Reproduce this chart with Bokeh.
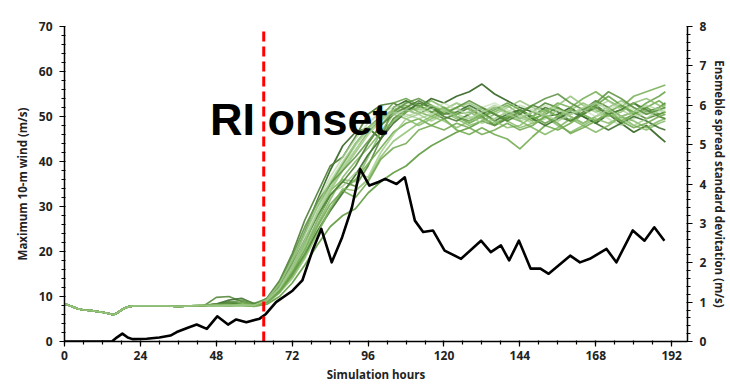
from bokeh.plotting import figure
from bokeh.models import Range1d, LinearAxis, Label, FixedTicker
from bokeh.embed import file_html
from bokeh.resources import INLINE

# ---------------------------------------------------------------
# Data
# ---------------------------------------------------------------
# Spin-up period shared by all ensemble members (hours, m/s)
spinup_hours = [0, 2, 4, 6, 8, 10, 12, 14, 15, 16, 17, 18, 19, 20, 22, 24, 28, 32, 36, 40]
spinup_wind = [8.4, 7.9, 7.3, 7.0, 6.9, 6.7, 6.5, 6.2, 6.0, 6.1, 6.5, 7.0, 7.4, 7.7, 7.9,
               7.9, 7.9, 7.9, 7.8, 7.9]

# Hours at which each member's maximum 10-m wind is listed after spin-up
member_hours = [44, 48, 52, 56, 60, 64, 68, 72, 76, 80, 84, 88, 92, 96, 100, 104, 108, 112,
                116, 120, 124, 128, 132, 136, 140, 144, 148, 152, 156, 160, 164, 168, 172,
                176, 180, 184, 188, 190]

m01 = [8.0, 8.2, 8.1, 8.3, 8.0, 9.3, 12.8, 18.0, 24.5, 31.5, 38.0, 43.5, 46.5, 47.5, 45.0,
       52.0, 53.5, 52.0, 54.0, 53.0, 54.5, 55.5, 57.2, 55.0, 53.5, 52.0, 51.0, 50.0, 50.5,
       52.0, 50.0, 48.5, 50.5, 48.5, 46.5, 48.0, 45.5, 44.3]
m02 = [8.0, 8.3, 8.8, 8.4, 8.1, 9.6, 13.5, 19.5, 27.0, 33.0, 39.0, 41.0, 45.5, 50.5, 52.5,
       53.0, 51.5, 52.5, 51.0, 49.5, 50.5, 52.0, 50.0, 48.0, 49.5, 51.5, 50.0, 52.0, 51.0,
       49.0, 51.0, 52.5, 50.5, 51.5, 53.0, 51.0, 52.0, 53.0]
m03 = [7.9, 9.8, 10.0, 8.9, 8.2, 9.0, 11.8, 15.5, 20.5, 27.0, 32.5, 35.5, 34.5, 39.0, 45.0,
       49.5, 51.5, 50.5, 52.0, 51.5, 50.0, 49.0, 50.5, 52.0, 51.0, 49.5, 51.0, 53.0, 52.0,
       50.5, 51.5, 53.5, 52.0, 50.0, 51.0, 49.5, 50.5, 51.0]
m04 = [8.0, 8.0, 7.9, 8.0, 7.8, 8.3, 10.0, 13.0, 17.0, 21.5, 25.5, 28.0, 29.5, 33.0, 35.5,
       37.5, 39.0, 41.5, 43.5, 45.0, 46.5, 47.5, 49.0, 48.0, 50.0, 51.5, 49.5, 50.5, 52.0,
       50.0, 48.5, 50.0, 51.5, 49.0, 50.5, 52.0, 50.5, 51.0]
m05 = [8.0, 8.1, 8.4, 8.6, 8.0, 8.6, 11.0, 14.5, 19.0, 24.5, 29.5, 33.5, 36.0, 39.5, 43.0,
       46.5, 48.5, 49.5, 48.0, 49.5, 47.0, 46.0, 47.5, 46.0, 45.0, 42.8, 45.5, 48.0, 47.0,
       48.5, 50.5, 49.0, 51.0, 52.5, 50.5, 52.0, 53.5, 52.5]
m06 = [8.0, 8.2, 8.0, 8.5, 8.2, 9.2, 12.5, 17.0, 22.5, 28.5, 34.0, 38.5, 42.5, 46.5, 49.5,
       51.5, 52.5, 51.0, 50.0, 51.5, 53.0, 51.5, 50.0, 51.0, 52.5, 50.5, 49.0, 51.0, 53.0,
       52.0, 54.0, 55.5, 53.5, 52.0, 54.5, 55.5, 56.5, 57.0]
m07 = [8.0, 8.0, 8.2, 8.1, 7.9, 8.8, 11.5, 16.0, 21.5, 28.5, 33.5, 36.0, 35.5, 41.0, 46.5,
       50.5, 49.5, 48.0, 49.5, 51.0, 49.5, 48.0, 49.0, 50.5, 49.0, 47.5, 48.5, 50.0, 48.0,
       46.5, 48.0, 49.5, 48.5, 50.0, 48.0, 47.0, 48.5, 49.0]
m08 = [8.1, 8.3, 8.1, 8.2, 8.0, 9.0, 12.0, 16.5, 22.0, 28.0, 33.5, 38.0, 42.0, 46.0, 49.0,
       51.0, 52.0, 51.5, 52.5, 51.0, 52.0, 53.0, 51.5, 50.5, 52.0, 53.5, 52.0, 51.0, 52.5,
       54.5, 52.5, 51.0, 52.0, 53.5, 52.0, 50.5, 52.0, 52.5]
m09 = [8.0, 8.1, 8.0, 8.3, 8.1, 9.1, 12.3, 17.0, 23.0, 29.0, 34.5, 39.0, 43.5, 47.0, 50.0,
       51.5, 50.5, 49.5, 50.5, 52.0, 50.5, 49.5, 51.0, 52.5, 51.0, 49.0, 50.0, 51.5, 50.0,
       49.0, 50.5, 52.0, 53.5, 51.5, 50.0, 51.5, 50.0, 49.5]
m10 = [8.0, 8.2, 8.3, 8.1, 8.2, 9.4, 13.0, 18.5, 25.0, 31.0, 36.5, 41.0, 45.0, 48.5, 51.0,
       52.0, 53.0, 52.0, 50.5, 51.5, 53.0, 52.0, 50.5, 49.5, 51.0, 52.5, 51.5, 50.0, 49.0,
       50.5, 52.0, 51.0, 49.5, 48.0, 49.5, 51.0, 50.0, 50.5]
m11 = [8.0, 8.3, 9.2, 9.6, 8.4, 8.9, 11.2, 15.0, 19.5, 24.5, 29.0, 33.0, 37.0, 41.5, 45.0,
       48.5, 51.0, 53.0, 52.0, 50.5, 51.0, 52.5, 51.0, 49.0, 50.5, 51.5, 49.5, 48.0, 49.5,
       51.0, 50.0, 48.5, 47.0, 48.5, 50.0, 49.0, 47.5, 47.0]
m12 = [8.0, 8.1, 8.2, 8.4, 8.1, 9.2, 12.6, 17.8, 24.0, 30.0, 35.0, 39.5, 44.0, 47.5, 50.0,
       53.0, 54.0, 52.5, 51.0, 52.0, 50.0, 48.5, 50.0, 51.5, 53.0, 51.5, 50.0, 48.5, 50.0,
       51.5, 50.5, 52.5, 54.5, 52.5, 51.0, 53.0, 54.5, 55.5]
m13 = [8.0, 8.0, 8.1, 8.0, 7.9, 8.7, 11.3, 15.5, 20.5, 26.0, 31.5, 36.5, 40.0, 43.0, 46.5,
       49.0, 51.0, 52.0, 53.5, 52.0, 50.5, 51.0, 49.5, 48.5, 50.0, 49.0, 47.5, 46.0, 47.5,
       49.5, 48.0, 46.5, 48.0, 50.0, 49.0, 47.5, 49.0, 49.5]
m14 = [8.0, 8.2, 8.0, 8.3, 8.0, 8.9, 11.8, 16.0, 21.0, 27.0, 33.0, 34.5, 37.5, 36.5, 42.0,
       46.0, 49.5, 50.5, 49.0, 50.5, 52.0, 50.0, 48.5, 49.5, 51.0, 50.0, 48.5, 49.5, 51.5,
       50.0, 48.5, 50.0, 51.0, 49.5, 48.0, 49.5, 51.5, 52.0]
m15 = [8.0, 8.3, 8.5, 8.2, 8.0, 9.1, 12.2, 17.0, 22.5, 28.0, 32.5, 35.5, 39.0, 44.0, 48.0,
       50.5, 52.0, 53.5, 52.0, 50.0, 49.0, 50.5, 52.0, 50.5, 49.0, 50.5, 52.5, 51.5, 50.0,
       49.0, 50.5, 52.0, 50.5, 51.5, 53.0, 51.5, 50.0, 49.5]
m16 = [8.0, 8.1, 8.0, 8.1, 7.9, 8.5, 10.8, 14.0, 18.5, 24.0, 29.5, 34.0, 33.5, 36.0, 41.0,
       44.5, 46.5, 48.5, 50.0, 49.0, 47.5, 49.0, 50.5, 49.0, 47.5, 48.0, 50.0, 51.5, 50.0,
       51.5, 53.0, 51.5, 50.0, 51.0, 53.0, 54.0, 52.5, 52.0]
m17 = [8.0, 8.1, 8.2, 8.0, 8.1, 9.0, 12.0, 16.8, 22.5, 28.5, 34.0, 38.5, 42.5, 46.0, 49.0,
       50.5, 51.5, 50.5, 51.5, 53.0, 51.5, 50.5, 52.0, 53.0, 51.5, 50.0, 51.0, 52.5, 51.5,
       50.5, 51.5, 50.0, 51.5, 53.0, 51.5, 50.5, 51.0, 51.5]
m18 = [8.0, 8.2, 8.6, 9.2, 8.5, 9.5, 13.2, 19.0, 25.5, 31.0, 35.0, 38.0, 41.0, 44.5, 48.0,
       51.0, 53.0, 54.0, 52.5, 50.5, 52.0, 53.5, 52.0, 50.5, 49.5, 51.0, 52.5, 54.0, 55.0,
       53.0, 51.5, 53.0, 55.5, 54.0, 52.0, 50.5, 51.5, 52.0]
m19 = [8.0, 8.0, 8.1, 8.2, 8.0, 8.7, 11.0, 14.8, 19.5, 25.5, 30.5, 33.5, 32.0, 35.5, 40.5,
       43.0, 44.0, 47.0, 48.0, 47.0, 48.5, 47.5, 46.0, 47.0, 48.5, 47.0, 48.0, 50.0, 48.5,
       46.2, 47.5, 49.0, 50.5, 49.0, 47.5, 48.5, 50.0, 50.5]
m20 = [8.0, 8.1, 8.0, 8.2, 8.0, 9.3, 12.8, 18.0, 24.0, 30.0, 35.5, 40.0, 44.0, 47.5, 49.5,
       51.0, 50.0, 51.0, 52.5, 51.5, 50.0, 49.5, 51.0, 52.0, 50.5, 49.5, 51.0, 50.5, 49.0,
       50.5, 52.0, 53.0, 51.5, 50.0, 51.0, 52.5, 51.5, 51.0]

members = [m01, m02, m03, m04, m05, m06, m07, m08, m09, m10,
           m11, m12, m13, m14, m15, m16, m17, m18, m19, m20]

# Ensemble spread standard deviation (right axis, m/s)
spread_hours = [0, 15, 16.5, 18.3, 20, 21.5, 26, 30, 33.5, 35.5, 39, 41.8, 45, 48.3, 51.7,
                54.3, 57.5, 61.7, 63.7, 66.9, 72.1, 75.2, 78.4, 81.2, 84.5, 87.8, 90.9, 93.5,
                96.4, 99.3, 101.4, 105, 107.6, 110.8, 113.4, 116.5, 120.2, 125.4, 131.7,
                134.8, 138, 140.6, 143.7, 147.4, 150.5, 153.1, 159.9, 163, 166.1, 171.4,
                174.5, 179.7, 183.4, 186.5, 189.7]
spread_std = [0.0, 0.0, 0.1, 0.2, 0.1, 0.06, 0.07, 0.1, 0.15, 0.24, 0.35, 0.43, 0.32, 0.64,
              0.43, 0.56, 0.49, 0.58, 0.7, 1.0, 1.29, 1.55, 2.31, 2.86, 2.01, 2.65, 3.41,
              4.38, 3.96, 4.05, 4.13, 4.0, 4.17, 3.07, 2.78, 2.82, 2.31, 2.1, 2.56, 2.27,
              2.44, 2.06, 2.56, 1.85, 1.85, 1.72, 2.18, 2.01, 2.1, 2.35, 2.01, 2.82, 2.56,
              2.9, 2.56]

onset_hour = 63

x_ticks = [0, 24, 48, 72, 96, 120, 144, 168, 192]
wind_ticks = [0, 10, 20, 30, 40, 50, 60, 70]
spread_ticks = [0, 1, 2, 3, 4, 5, 6, 7, 8]

# ---------------------------------------------------------------
# Styling
# ---------------------------------------------------------------
member_colors = ["#3b6a2a", "#4b7c35", "#568a3c", "#5f9a3f", "#6aa846",
                 "#73ad50", "#80b661", "#8fbf74", "#a2cb8b", "#b6d8a3",
                 "#3f7030", "#63a043", "#78b258", "#9ac880", "#4f8236",
                 "#86bb68", "#c0ddb0", "#5a9040", "#6ea64c", "#a8d093"]
member_alphas = [0.95, 0.9, 0.9, 0.9, 0.85, 0.85, 0.8, 0.8, 0.7, 0.7,
                 0.9, 0.85, 0.8, 0.75, 0.9, 0.8, 0.65, 0.85, 0.85, 0.7]

FONT = "Open Sans"

p = figure(width=730, height=386, output_backend="svg", toolbar_location=None,
           x_range=Range1d(0, 197), y_range=Range1d(0, 70),
           min_border_left=64, min_border_right=40, min_border_top=26,
           min_border_bottom=45)
p.outline_line_color = None
p.xgrid.visible = False
p.ygrid.visible = False
p.background_fill_color = "white"
p.border_fill_color = "white"

p.extra_y_ranges = {"spread": Range1d(0, 8)}

# Ensemble members
for vals, col, alpha in zip(members, member_colors, member_alphas):
    p.line(spinup_hours + member_hours, spinup_wind + vals,
           line_color=col, line_alpha=alpha, line_width=1.7,
           line_join="round")

# Ensemble spread
p.line(spread_hours, spread_std, y_range_name="spread",
       line_color="black", line_width=2.6, line_join="round")

# RI onset marker
p.line([onset_hour, onset_hour], [0, 70], line_color="#ff0000", line_width=3,
       line_dash="10 5")

p.add_layout(Label(x=46, y=49.4, text="RI onset", text_font="Liberation Sans",
                   text_font_style="bold", text_font_size="45px",
                   text_color="black", text_baseline="alphabetic"))
p.add_layout(Label(x=96, y=72, text="5km resolution", text_font=FONT,
                   text_font_style="bold", text_font_size="13px",
                   text_color="#222222", text_align="center",
                   text_baseline="middle"))

# Axes
def style_axis(ax, label):
    ax.axis_label = label
    ax.axis_label_text_font = FONT
    ax.axis_label_text_font_style = "bold"
    ax.axis_label_text_font_size = "11.5px"
    ax.axis_label_text_color = "#222222"
    ax.major_label_text_font = FONT
    ax.major_label_text_font_style = "bold"
    ax.major_label_text_font_size = "12px"
    ax.major_label_text_color = "#222222"
    ax.axis_line_color = "black"
    ax.axis_line_width = 1.5
    ax.major_tick_line_color = "black"
    ax.minor_tick_line_color = "black"
    ax.major_tick_line_width = 1.2
    ax.minor_tick_line_width = 1.2
    ax.major_tick_out = 5
    ax.major_tick_in = 0
    ax.minor_tick_out = 3
    ax.minor_tick_in = 1

xa = p.xaxis[0]
style_axis(xa, "Simulation hours")
xa.ticker = FixedTicker(ticks=x_ticks, minor_ticks=list(range(0, 197, 6)))
xa.major_label_standoff = 4
xa.axis_label_standoff = 4

ya = p.yaxis[0]
style_axis(ya, "Maximum 10-m wind (m/s)")
ya.ticker = FixedTicker(ticks=wind_ticks, minor_ticks=list(range(0, 71, 2)))
ya.major_label_standoff = 7
ya.axis_label_standoff = 6

ra = LinearAxis(y_range_name="spread")
style_axis(ra, "Ensmeble spread standard devitation (m/s)")
ra.ticker = FixedTicker(ticks=spread_ticks,
                        minor_ticks=[i / 5 for i in range(0, 41)])
ra.major_label_standoff = 7
ra.axis_label_standoff = 3
p.add_layout(ra, "right")

open("out.html", "w").write(file_html(p, INLINE))
